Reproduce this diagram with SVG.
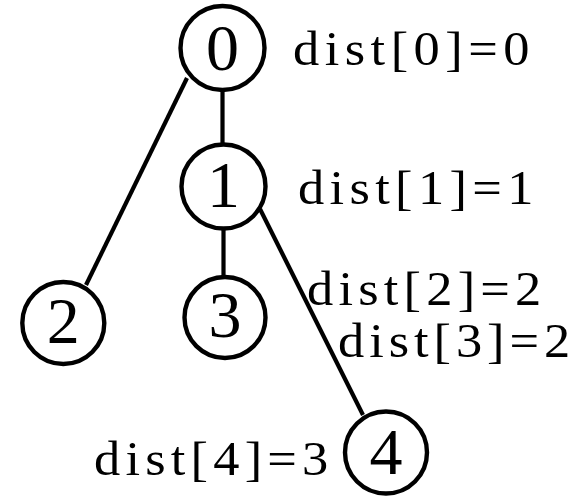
<svg xmlns="http://www.w3.org/2000/svg" width="577" height="497" viewBox="0 0 577 497">
  <style>
    .node circle { fill: #ffffff; stroke: #000000; stroke-width: 4.4; }
    .node text { font-family: 'Liberation Serif', 'DejaVu Serif', serif; font-size: 66px; text-anchor: middle; fill: #000000; }
    .edges line { stroke: #000000; stroke-width: 4.2; stroke-linecap: butt; }
    .label { font-family: 'Liberation Serif', 'DejaVu Serif', serif; font-size: 49px; fill: #000000; }
  </style>
  <rect x="0" y="0" width="577" height="497" fill="#ffffff"/>

  <!-- tree edges -->
  <g id="edges" class="edges">
    <line x1="222.5" y1="90" x2="222.5" y2="145"/>
    <line x1="187" y1="78" x2="86" y2="285"/>
    <line x1="223.5" y1="228" x2="223.5" y2="277"/>
    <line x1="260" y1="209" x2="363" y2="415"/>
  </g>

  <!-- vertices -->
  <g id="node-0" class="node">
    <circle cx="222.5" cy="48" r="42"/>
    <text x="222.5" y="70">0</text>
  </g>
  <g id="node-1" class="node">
    <circle cx="223.5" cy="186.5" r="42"/>
    <text x="223.5" y="207">1</text>
  </g>
  <g id="node-2" class="node">
    <circle cx="63.3" cy="323" r="41"/>
    <text x="63.3" y="343">2</text>
  </g>
  <g id="node-3" class="node">
    <circle cx="225" cy="317.5" r="40.5"/>
    <text x="225" y="337">3</text>
  </g>
  <g id="node-4" class="node">
    <circle cx="386" cy="452.5" r="41"/>
    <text x="386" y="474">4</text>
  </g>

  <!-- distance labels, glyphs widened a little for a half-width look -->
  <g id="labels">
    <text class="label" transform="translate(293,65) scale(1.07,1)" textLength="221" lengthAdjust="spacing">dist[0]=0</text>
    <text class="label" transform="translate(298,204) scale(1.07,1)" textLength="220" lengthAdjust="spacing">dist[1]=1</text>
    <text class="label" transform="translate(307,305) scale(1.07,1)" textLength="219" lengthAdjust="spacing">dist[2]=2</text>
    <text class="label" transform="translate(338,357) scale(1.07,1)" textLength="217" lengthAdjust="spacing">dist[3]=2</text>
    <text class="label" transform="translate(94,475) scale(1.07,1)" textLength="219" lengthAdjust="spacing">dist[4]=3</text>
  </g>
</svg>
